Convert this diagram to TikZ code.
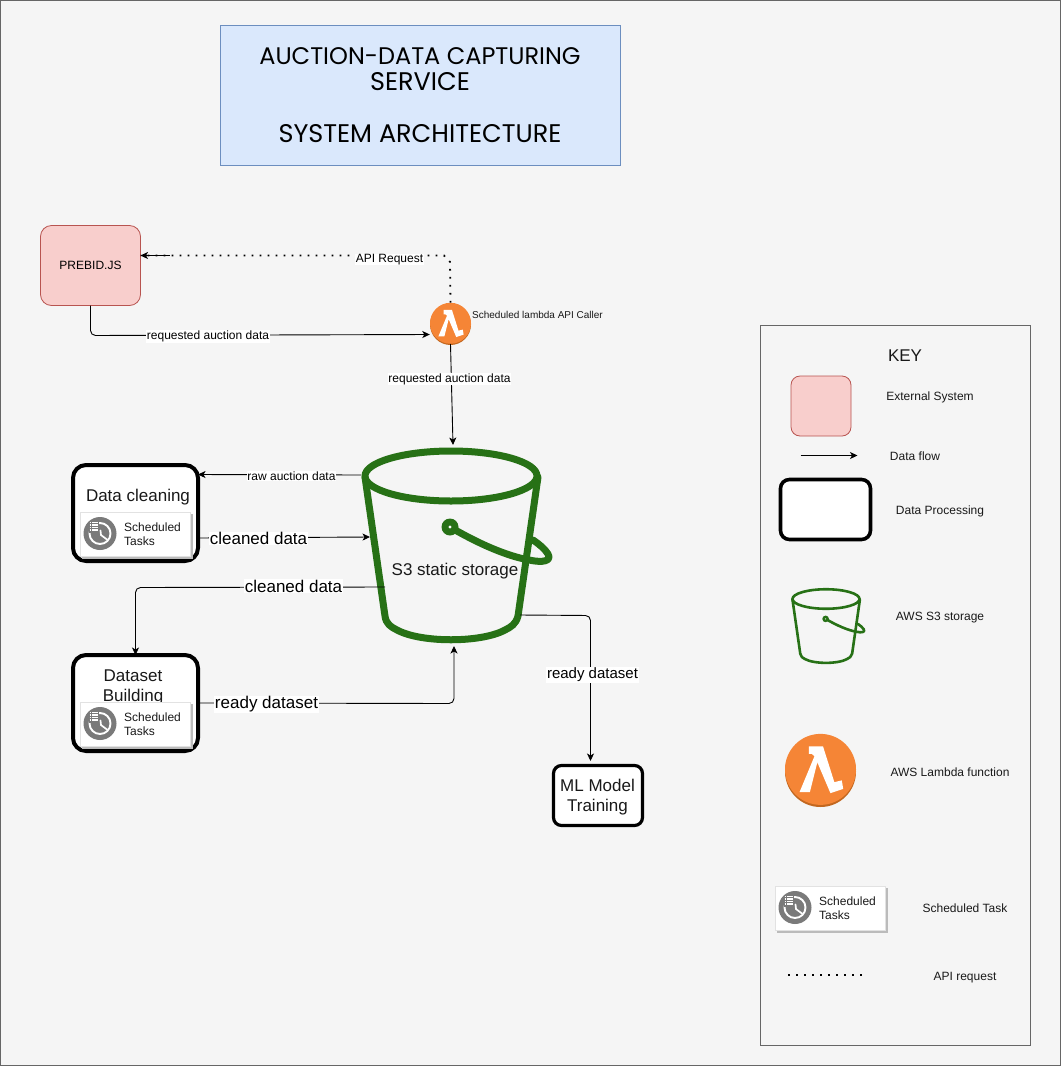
\documentclass[tikz,border=0pt]{standalone}
\usepackage{fontspec}
\setmainfont{Liberation Sans}
\newfontfamily\titlefont{Poppins}
\usetikzlibrary{arrows.meta,shapes.geometric,calc}
\definecolor{bgc}{HTML}{F5F5F5}
\definecolor{edgec}{HTML}{666666}
\definecolor{titlefill}{HTML}{DAE8FC}
\definecolor{titlestroke}{HTML}{6C8EBF}
\definecolor{pinkfill}{HTML}{F8CECC}
\definecolor{pinkstroke}{HTML}{B85450}
\definecolor{bucketgreen}{HTML}{277116}
\definecolor{lamorange}{HTML}{F58536}
\definecolor{lamdark}{HTML}{C2671F}
\definecolor{icongrey}{HTML}{7A7A7A}
\definecolor{shadowgrey}{HTML}{BBBBBB}
\definecolor{cardedge}{HTML}{E2E2E2}
\newcommand{\fs}[1]{\fontsize{#1}{#1}\selectfont}
\newcommand{\fsl}[2]{\fontsize{#1}{#2}\selectfont}
\tikzset{
  flow/.style={draw=black,line width=0.9pt,-{Stealth[length=7.5pt,width=7pt,inset=2pt]},rounded corners=5pt},
  apidots/.style={draw=black,line width=1.8pt,dash pattern=on 1.8pt off 6.2pt},
  edgelab/.style={fill=white,inner sep=0.6pt,text=black,font=\fs{12}},
  biglab/.style={fill=white,inner sep=0.6pt,text=black,font=\fs{17}},
  midlab/.style={fill=white,inner sep=0.6pt,text=black,font=\fs{15}},
  keytext/.style={inner sep=0pt,text=black!90,font=\fs{12}},
  procbox/.style={draw=black,fill=white,line width=4pt,rounded corners=13pt,inner sep=0pt,outer sep=0pt,align=center,font={\fsl{17}{20}}},
  extbox/.style={draw=pinkstroke,fill=pinkfill,line width=0.8pt,inner sep=0pt,outer sep=0pt,font=\fs{12}},
  lamcirc/.style={circle,fill=lamorange,inner sep=0pt},
  carddraw/.style={draw=cardedge,fill=white,line width=0.8pt,minimum width=110pt,minimum height=44pt,inner sep=0pt},
}
% rim centre (#1,#2), scale #3, line width #4
\newcommand{\bucketShape}[4]{%
  \begin{scope}[shift={(#1,#2)},scale=#3,draw=bucketgreen,line width=#4,line join=round,line cap=round]
    \draw (0,0) ellipse [x radius=86,y radius=25];
    \draw (-86,1) -- (-66,140) .. controls (-65,148) and (-60,151) .. (-54,154) .. controls (-30,167) and (30,167) .. (54,154) .. controls (60,151) and (65,148) .. (67,140) -- (87,1);
    \draw (-1,51) .. controls (28,68) and (56,80) .. (78,84) .. controls (92,87) and (101,85) .. (97,78) .. controls (94,73) and (88,68) .. (82,64);
    \fill[bucketgreen] (-1,51) circle (8.5);
    \fill[white] (-1,51) circle (1.6);
  \end{scope}}
% centre (#1,#2), radius #3, node name #4
\newcommand{\lambdaIcon}[4]{%
  \fill[lamdark] (#1,#2) circle (#3);
  \node[lamcirc,minimum size=2*#3 pt] (#4) at (#1,#2-0.06*#3) {};
  \begin{scope}[shift={(#1,#2)},scale=#3]
    \fill[white] (-.33,-.71) -- (.07,-.71) -- (.39,.30) -- (.60,.25) -- (.64,.49) -- (.28,.61) -- (-.09,-.26) -- (-.30,.58) -- (-.59,.58) -- (-.17,-.43) -- (-.25,-.50) -- (-.33,-.50) -- cycle;
  \end{scope}}
% card centre (#1,#2), node name #3
\newcommand{\taskCard}[3]{%
  \fill[shadowgrey] (#1-53,#2-20) rectangle (#1+57.5,#2+24.5);
  \node[carddraw] (#3) at (#1,#2) {};
  \begin{scope}[shift={(#1-35,#2-0.5)}]
    \fill[icongrey] (0,0) circle (16.5);
    \draw[white,line width=1.9pt] (0,0) circle (10.5);
    \draw[white,line width=1.7pt,line cap=round] (0.5,-3) -- (1,1.5) -- (7,6);
    \fill[icongrey] (-11,-12) rectangle (-1,-1);
    \foreach \yy in {-11,-8.5,-6,-3.5} \draw[white,line width=1.2pt] (-10.5,\yy) -- (-2.5,\yy);
    \draw[icongrey,line width=0.6pt] (-8.5,-12) -- (-8.5,-3);
  \end{scope}
  \node[anchor=west,align=left,inner sep=0pt,text=black!90,font={\fsl{12}{14}}] at (#1-11,#2) {Scheduled\\Tasks};}
\begin{document}
\begin{tikzpicture}[x=1pt,y=-1pt]
\useasboundingbox (0,0) rectangle (1061,1066);
\fill[white] (0,0) rectangle (1061,1066);
\draw[edgec,fill=bgc,line width=1pt] (0.5,0.5) rectangle (1060.5,1065.5);

% title
\node[draw=titlestroke,fill=titlefill,line width=0.8pt,minimum width=400pt,minimum height=140pt,inner sep=0pt,align=center,
      font={\titlefont\fsl{24}{26}}] (title) at (420,95)
  {AUCTION-DATA CAPTURING\\\fsl{25.5}{26}SERVICE\\\mbox{}\\\fsl{25.5}{26}SYSTEM ARCHITECTURE};

% bucket
\bucketShape{451}{476}{1}{7pt}
\node[inner sep=0pt,text=black!90,font=\fs{17}] (bucket) at (455,571) {S3 static storage};
\coordinate (bTop) at (453,445);
\coordinate (bRaw) at (361,475);
\coordinate (bClean) at (370,537);
\coordinate (bOut) at (385,587);
\coordinate (bIn) at (454,646);
\coordinate (bReady) at (520,615);

% main nodes
\node[extbox,rounded corners=11pt,minimum width=100pt,minimum height=80pt] (prebid) at (90.5,265.5) {PREBID.JS};
\lambdaIcon{450.5}{324.5}{20.5}{lam}
\node[anchor=west,inner sep=0pt,text=black!90,font=\fs{10}] (lamtext) at (472,315) {Scheduled lambda API Caller};
\node[procbox,minimum width=125pt,minimum height=96pt] (clean) at (135.5,513) {};
\node[inner sep=0pt,text=black!90,font=\fs{17}] (cleantext) at (138,497) {Data cleaning};
\taskCard{135}{534}{taskA}
\node[procbox,minimum width=125pt,minimum height=96pt] (build) at (135.5,703) {};
\node[align=center,inner sep=0pt,text=black!90,font={\fsl{17}{20}}] (buildtext) at (133,687) {Dataset\\Building};
\taskCard{135}{724}{taskB}
\node[procbox,line width=3.2pt,rounded corners=8pt,minimum width=89pt,minimum height=60pt] (ml) at (598,795.5) {};
\node[align=center,inner sep=0pt,text=black!90,font={\fsl{17}{20}}] (mltext) at (597.5,797) {ML Model\\Training};

% connectors
\coordinate (apiEnd) at (170,255.5);
\draw[apidots] (lam.north) -- (450,262) -- (444,255.5) -- (apiEnd) -- ([yshift=10pt]prebid.east);
\draw[flow] (apiEnd) -- ([yshift=10pt]prebid.east);
\node[edgelab] (lapi) at (389.5,259.5) {API Request};

\draw[flow] (prebid.south) -- (90.5,335.5) -- (lam.west |- 0,334.5);
\node[edgelab] (lreq) at (208,336.5) {requested auction data};

\draw[flow] (lam.south) -- (bTop);
\node[edgelab] (lreq2) at (449.5,379) {requested auction data};

\draw[flow] (bRaw) -- (clean.east |- 0,474.5);
\node[edgelab] (lraw) at (291.5,476) {raw auction data};

\draw[flow] (clean.east |- 0,538) -- (bClean);
\node[biglab] (lclean) at (258.5,538.5) {cleaned data};

\draw[flow] (bOut) -- (135.5,587.5) -- (build.north);
\node[biglab] (lclean2) at (293.5,586) {cleaned data};

\draw[flow] (build.east) -- (454,703.5) -- (bIn);
\node[biglab] (lready) at (266.5,704.5) {ready dataset};

\draw[flow] (bReady) -- (590.5,615.5) -- (590.5,761);
\node[midlab] (lready2) at (592.5,675) {ready dataset};

% key
\node[draw=edgec,line width=0.8pt,minimum width=270pt,minimum height=720pt,inner sep=0pt] (keybox) at (895.5,685.5) {};
\node[inner sep=0pt,text=black!90,font=\fs{17}] (keytitle) at (905,356) {KEY};
\node[extbox,rounded corners=9pt,minimum width=60pt,minimum height=60pt] (kext) at (821,406) {};
\node[keytext] (kexttext) at (930,397) {External System};
\coordinate (kfa) at (800.5,455.5);
\coordinate (kfb) at (857.5,455.5);
\draw[flow] (kfa) -- (kfb);
\node[keytext] (kflow) at (915,456) {Data flow};
\node[procbox,line width=3.6pt,rounded corners=9pt,minimum width=90pt,minimum height=60pt] (kproc) at (825.5,509.5) {};
\node[keytext] (kproctext) at (940,511) {Data Processing};
\bucketShape{826}{599}{0.39}{2.6pt}
\node[keytext] (ks3) at (940,618) {AWS S3 storage};
\lambdaIcon{820.5}{771.5}{35.5}{klam}
\node[keytext] (klamtext) at (950,772) {AWS Lambda function};
\taskCard{830}{908}{ktask}
\node[keytext] (ktasktext) at (965,908) {Scheduled Task};
\coordinate (kda) at (788,975);
\coordinate (kdb) at (864,975);
\draw[apidots] (kda) -- (kdb);
\node[keytext] (kapi) at (965,978) {API request};
\end{tikzpicture}
\end{document}
